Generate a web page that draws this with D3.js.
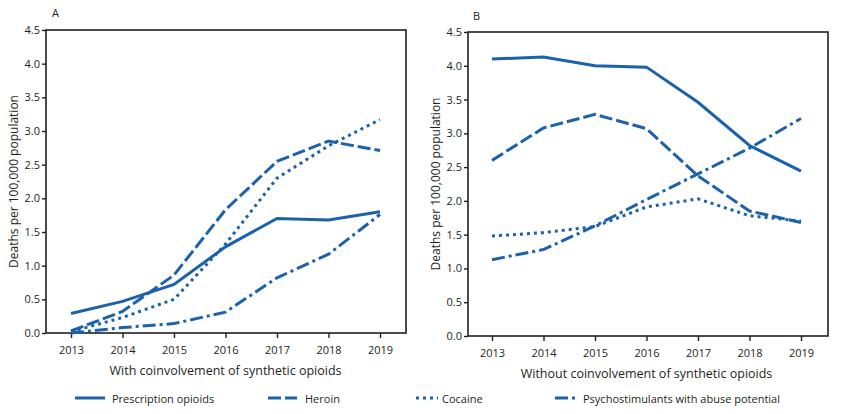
<!DOCTYPE html>
<html><head><meta charset="utf-8">
<script src="https://cdn.jsdelivr.net/npm/d3@7"></script>
<style>body{margin:0;background:#fff}text{font-family:"Open Sans",sans-serif;fill:#231f20}</style>
</head><body>
<svg id="c" width="841" height="414"></svg>
<script>
const years = [2013,2014,2015,2016,2017,2018,2019];
const yTicks = [0,0.5,1,1.5,2,2.5,3,3.5,4,4.5];
const seriesNames = ["Prescription opioids","Heroin","Cocaine","Psychostimulants with abuse potential"];
// Panel A: with coinvolvement of synthetic opioids
const withPrescription = [0.29,0.47,0.72,1.28,1.70,1.68,1.80];
const withHeroin = [0.03,0.32,0.86,1.83,2.55,2.85,2.71];
const withCocaine = [0.02,0.23,0.50,1.32,2.30,2.78,3.17];
const withPsycho = [0.00,0.08,0.14,0.31,0.82,1.17,1.76];
// Panel B: without coinvolvement
const withoutPrescription = [4.10,4.13,4.00,3.98,3.46,2.82,2.44];
const withoutHeroin = [2.60,3.08,3.28,3.07,2.37,1.85,1.68];
const withoutCocaine = [1.48,1.53,1.62,1.91,2.03,1.78,1.70];
const withoutPsycho = [1.13,1.28,1.63,2.02,2.40,2.78,3.22];

const color = "#1b62ab";
const dashes = [null, "13,4", "3,4", "13,4,3,4"];
const svg = d3.select("#c");

const panels = [
  {label:"A", title:"With coinvolvement of synthetic opioids", data:[withPrescription,withHeroin,withCocaine,withPsycho],
   box:[46,406,30,333], xr:[71,380], labelPos:[52,17], ytitleX:13, tickY:355, titleY:375},
  {label:"B", title:"Without coinvolvement of synthetic opioids", data:[withoutPrescription,withoutHeroin,withoutCocaine,withoutPsycho],
   box:[468,828,32,336], xr:[492,801], labelPos:[473,20], ytitleX:435, tickY:358, titleY:378}
];

panels.forEach(p => {
  const [x0,x1,y0,y1] = p.box;
  const x = d3.scaleLinear().domain([2013,2019]).range(p.xr);
  const y = d3.scaleLinear().domain([0,4.5]).range([y1,y0]);
  const g = svg.append("g");
  g.append("rect").attr("x",x0).attr("y",y0).attr("width",x1-x0).attr("height",y1-y0)
    .attr("fill","none").attr("stroke","#231f20").attr("stroke-width",1.6);
  const ya = g.append("g").attr("transform",`translate(${x0},0)`)
    .call(d3.axisLeft(y).tickValues(yTicks).tickFormat(d3.format(".1f")).tickSize(4).tickPadding(2));
  ya.select(".domain").remove();
  ya.selectAll("line").attr("stroke","#231f20").attr("stroke-width",1.4);
  ya.selectAll("text").style("font-size","11px").style("font-family","Open Sans").attr("fill","#231f20");
  const xa = g.append("g").attr("transform",`translate(0,${y1})`)
    .call(d3.axisBottom(x).tickValues(years).tickFormat(d3.format("d")).tickSize(5).tickPadding(8));
  xa.select(".domain").remove();
  xa.selectAll("line").attr("stroke","#231f20").attr("stroke-width",1.4);
  xa.selectAll("text").style("font-size","11px").style("font-family","Open Sans").attr("fill","#231f20");
  g.append("text").attr("x",(p.xr[0]+p.xr[1])/2).attr("y",p.titleY).attr("text-anchor","middle")
    .style("font-size","12.5px").text(p.title);
  g.append("text").attr("transform",`translate(${p.ytitleX},${(y0+y1)/2}) rotate(-90)`)
    .attr("text-anchor","middle").attr("dominant-baseline","central").style("font-size","12px")
    .text("Deaths per 100,000 population");
  g.append("text").attr("x",p.labelPos[0]).attr("y",p.labelPos[1]).style("font-size","11px").text(p.label);
  const line = d3.line().x((d,i)=>x(years[i])).y(d=>y(d));
  p.data.forEach((s,k) => {
    g.append("path").datum(s).attr("d",line).attr("fill","none").attr("stroke",color)
      .attr("stroke-width",3).attr("stroke-dasharray",dashes[k]);
  });
});

const legX = [[75,105,112],[268,297,305],[416,438,442],[555,576,583]];
const legY = 398;
seriesNames.forEach((n,k) => {
  const [a,b,t] = legX[k];
  svg.append("line").attr("x1",a).attr("x2",b).attr("y1",legY).attr("y2",legY)
    .attr("stroke",color).attr("stroke-width",3).attr("stroke-dasharray",dashes[k]);
  svg.append("text").attr("x",t).attr("y",legY).attr("dominant-baseline","central")
    .style("font-size","11px").text(n);
});
</script>
</body></html>
